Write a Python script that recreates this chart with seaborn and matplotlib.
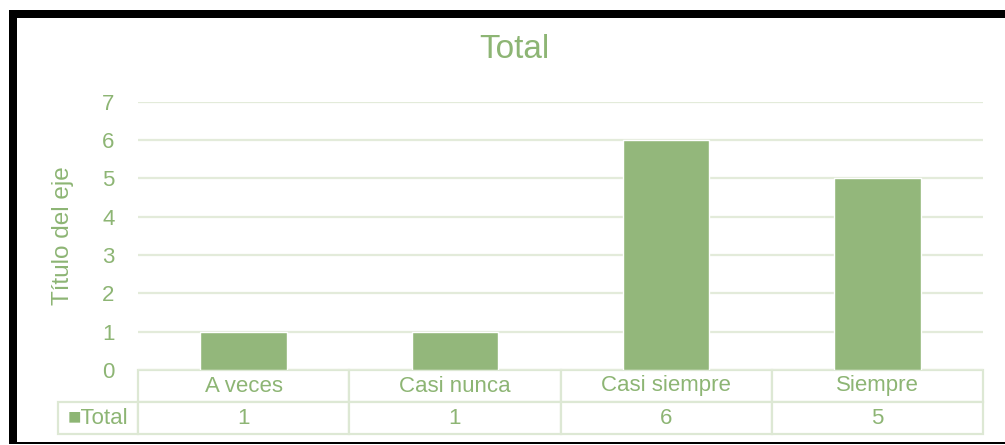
import matplotlib
matplotlib.use("Agg")
import matplotlib.pyplot as plt
from matplotlib.patches import Rectangle
from matplotlib.table import Table
import seaborn as sns
import pandas as pd

categories = ["A veces", "Casi nunca", "Casi siempre", "Siempre"]
values = [1, 1, 6, 5]
series_name = "Total"
y_ticks = [0, 1, 2, 3, 4, 5, 6, 7]

BAR = "#93B77B"
TEXT = "#8DB574"
GRID = "#E3EBDA"
EDGE = "#DDE8D4"
FONTS = ["Liberation Sans", "DejaVu Sans"]

sns.set_theme(style="white")
plt.rcParams["font.family"] = FONTS

W, H = 1005, 445
fig = plt.figure(figsize=(W / 100, H / 100), dpi=100, facecolor="white")

# black frame around the chart (left, top, bottom)
def px_rect(x0, y0, x1, y1):
    fig.add_artist(Rectangle((x0 / W, 1 - y1 / H), (x1 - x0) / W, (y1 - y0) / H,
                             transform=fig.transFigure, color="black", lw=0, zorder=10))

px_rect(9, 10, 17, 444)
px_rect(9, 10, W, 18)
px_rect(9, 442, W, 444)

ax_left, ax_right, ax_top, ax_bottom = 138, 983, 101.7, 370
ax = fig.add_axes([ax_left / W, 1 - ax_bottom / H,
                   (ax_right - ax_left) / W, (ax_bottom - ax_top) / H])

df = pd.DataFrame({"cat": categories, "val": values})
sns.barplot(data=df, x="cat", y="val", ax=ax, color=BAR, width=0.41,
            saturation=1, zorder=3)

ax.set_xlim(-0.5, len(categories) - 0.5)
ax.set_ylim(min(y_ticks), max(y_ticks))
ax.set_yticks(y_ticks)
ax.set_xticks(range(len(categories)))
ax.set_xticklabels([])
ax.set_xlabel("")
ax.set_ylabel("")
ax.yaxis.grid(True, color=GRID, lw=1.6, zorder=0)
ax.xaxis.grid(False)
ax.set_axisbelow(True)
for s in ax.spines.values():
    s.set_visible(False)
ax.tick_params(axis="y", length=0, pad=17, labelsize=16, labelcolor=TEXT)
ax.tick_params(axis="x", length=0)
ax.set_facecolor("white")

# data table below the plot: header row of categories, one row of values;
# the bbox covers the data columns, the row label sticks out to the left
ax_w = ax_right - ax_left
ax_h = ax_bottom - ax_top
label_w = 80 / ax_w
col_w = 1 / len(categories)
row_h = 0.5
tbl_h = (434 - 370) / ax_h
tbl = Table(ax, bbox=[0, -tbl_h, 1, tbl_h])
for j, cat in enumerate(categories):
    tbl.add_cell(0, j, col_w, row_h, text=cat, loc="center")
    tbl.add_cell(1, j, col_w, row_h, text=str(values[j]), loc="center")
tbl.add_cell(1, -1, label_w, row_h, text="\u25A0" + series_name, loc="center")
tbl.auto_set_font_size(False)
for (r, c), cell in tbl.get_celld().items():
    cell.set_edgecolor(EDGE)
    cell.set_linewidth(1.6)
    cell.set_facecolor("white")
    t = cell.get_text()
    t.set_color(TEXT)
    t.set_fontsize(16)
    t.set_fontfamily(FONTS)
ax.add_table(tbl)

fig.text(514 / W, 1 - 50 / H, series_name, ha="center", va="center",
         fontsize=24, color=TEXT)
fig.text(63.5 / W, 1 - 236 / H, "Título del eje", ha="center", va="center",
         rotation=90, fontsize=17.5, color=TEXT)

fig.savefig("out.png", dpi=100, facecolor="white")
